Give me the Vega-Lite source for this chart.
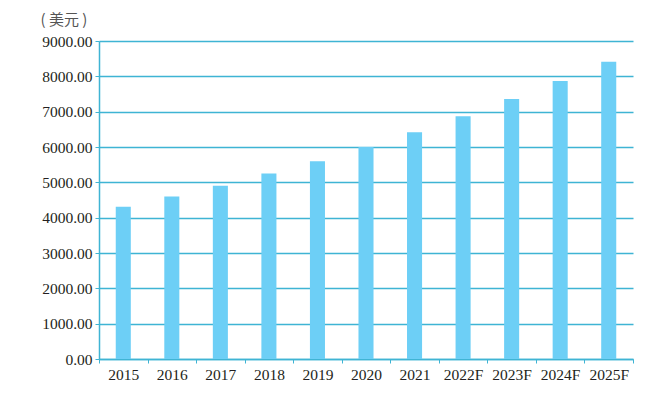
{
  "$schema": "https://vega.github.io/schema/vega-lite/v6.json",
  "autosize": "none",
  "width": 534,
  "height": 318,
  "padding": {"left": 99, "top": 41, "right": 24, "bottom": 36},
  "background": "white",
  "config": {
    "view": {"stroke": null},
    "font": "Liberation Serif",
    "axis": {"labelFont": "Liberation Serif", "titleFont": "Liberation Serif"}
  },
  "data": {
    "values": [
      {"year": "2015", "value": 4310},
      {"year": "2016", "value": 4600},
      {"year": "2017", "value": 4900},
      {"year": "2018", "value": 5250},
      {"year": "2019", "value": 5600},
      {"year": "2020", "value": 6000},
      {"year": "2021", "value": 6420},
      {"year": "2022F", "value": 6870},
      {"year": "2023F", "value": 7360},
      {"year": "2024F", "value": 7870},
      {"year": "2025F", "value": 8410}
    ]
  },
  "mark": {"type": "bar", "color": "#6DCFF6", "width": {"band": 0.31}},
  "encoding": {
    "x": {
      "field": "year",
      "type": "ordinal",
      "sort": null,
      "scale": {"paddingInner": 0, "paddingOuter": 0},
      "axis": {
        "title": null,
        "labelAngle": 0,
        "labelFontSize": 15.5,
        "labelColor": "#231F20",
        "labelPadding": 4,
        "tickBand": "extent",
        "tickSize": 4,
        "tickColor": "#3FB4D4",
        "domainColor": "#3FB4D4",
        "domainWidth": 1.5,
        "grid": false
      }
    },
    "y": {
      "field": "value",
      "type": "quantitative",
      "scale": {"domain": [0, 9000], "nice": false},
      "axis": {
        "values": [0, 1000, 2000, 3000, 4000, 5000, 6000, 7000, 8000, 9000],
        "format": ".2f",
        "labelFontSize": 15.5,
        "labelColor": "#231F20",
        "labelPadding": 3,
        "tickSize": 4,
        "tickColor": "#3FB4D4",
        "domainColor": "#3FB4D4",
        "domainWidth": 1.5,
        "gridColor": "#3FB4D4",
        "gridWidth": 1.5,
        "title": "( 美元 )",
        "titleAngle": 0,
        "titleAlign": "left",
        "titleBaseline": "middle",
        "titleFontWeight": "normal",
        "titleFont": "Noto Sans CJK SC",
        "titleFontSize": 15,
        "titleColor": "#555555",
        "titleX": -59,
        "titleY": -22
      }
    }
  }
}
